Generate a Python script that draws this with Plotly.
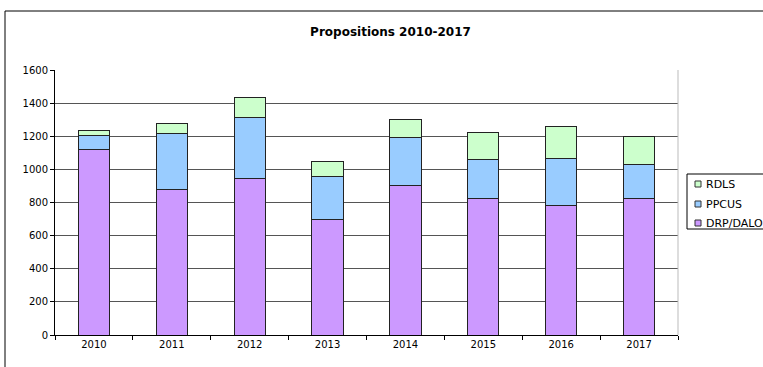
import plotly.graph_objects as go

years = ["2010", "2011", "2012", "2013", "2014", "2015", "2016", "2017"]
drp_dalo = [1120, 880, 945, 700, 903, 822, 780, 826]
ppcus = [84, 338, 370, 258, 291, 239, 287, 205]
rdls = [32, 56, 118, 91, 110, 159, 191, 165]

series_names = ["DRP/DALO", "PPCUS", "RDLS"]
series_values = [drp_dalo, ppcus, rdls]
series_colors = ["#CC99FF", "#99CCFF", "#CCFFCC"]

FONT = "DejaVu Sans, Liberation Sans, Arial, sans-serif"

fig = go.Figure()
for name, vals, col in zip(series_names, series_values, series_colors):
    fig.add_trace(go.Bar(
        x=years, y=vals, name=name, showlegend=False,
        marker=dict(color=col, line=dict(color="#222222", width=1)),
    ))

L, R, T, B = 55, 85, 70, 32
W, H = 763, 367
pw = W - L - R
ph = H - T - B


def px_x(x):
    return (x - L) / pw


def px_y(y):
    return (H - B - y) / ph


shapes = [
    # outer chart border (left and top edges visible)
    dict(type="line", xref="paper", yref="paper",
         x0=px_x(5), x1=px_x(5), y0=px_y(H + 50), y1=px_y(11),
         line=dict(color="black", width=1)),
    dict(type="line", xref="paper", yref="paper",
         x0=px_x(5), x1=px_x(W + 50), y0=px_y(11), y1=px_y(11),
         line=dict(color="black", width=1)),
    # light right edge of plot area
    dict(type="line", xref="paper", yref="paper",
         x0=1, x1=1, y0=0, y1=1,
         line=dict(color="#BBBBBB", width=1)),
    # legend box
    dict(type="rect", xref="paper", yref="paper",
         x0=px_x(687), x1=px_x(W + 50), y0=px_y(229), y1=px_y(174),
         line=dict(color="black", width=1), fillcolor="white"),
]
annotations = []

legend_rows_y = [223, 204, 184]  # DRP/DALO, PPCUS, RDLS (bottom to top)
for name, col, ry in zip(series_names, series_colors, legend_rows_y):
    shapes.append(dict(
        type="rect", xref="paper", yref="paper",
        x0=px_x(695), x1=px_x(701), y0=px_y(ry + 3), y1=px_y(ry - 3),
        line=dict(color="#333333", width=1), fillcolor=col,
    ))
    annotations.append(dict(
        text=name, xref="paper", yref="paper",
        x=px_x(704), y=px_y(ry), xanchor="left", yanchor="middle",
        showarrow=False, font=dict(family=FONT, size=11, color="black"),
    ))

fig.update_layout(
    width=W, height=H,
    margin=dict(l=L, r=R, t=T, b=B, autoexpand=False),
    barmode="stack",
    bargap=0.6,
    showlegend=False,
    paper_bgcolor="white",
    plot_bgcolor="white",
    font=dict(family=FONT, size=10, color="black"),
    title=dict(
        text="<b>Propositions 2010-2017</b>",
        x=390.5 / W, xanchor="center",
        y=1 - 32 / H, yanchor="middle",
        font=dict(family=FONT, size=12, color="black"),
    ),
    xaxis=dict(
        type="category",
        showline=True, linecolor="black", linewidth=1,
        ticks="outside", tickson="boundaries", ticklen=4, tickcolor="black",
        showgrid=False,
        tickfont=dict(size=10),
    ),
    yaxis=dict(
        range=[0, 1600], dtick=200,
        showline=True, linecolor="black", linewidth=1,
        ticks="outside", ticklen=4, tickcolor="black",
        showgrid=True, gridcolor="#555555", gridwidth=1,
        zeroline=False,
        tickfont=dict(size=10),
    ),
    shapes=shapes,
    annotations=annotations,
)

fig.write_html("out.html")
